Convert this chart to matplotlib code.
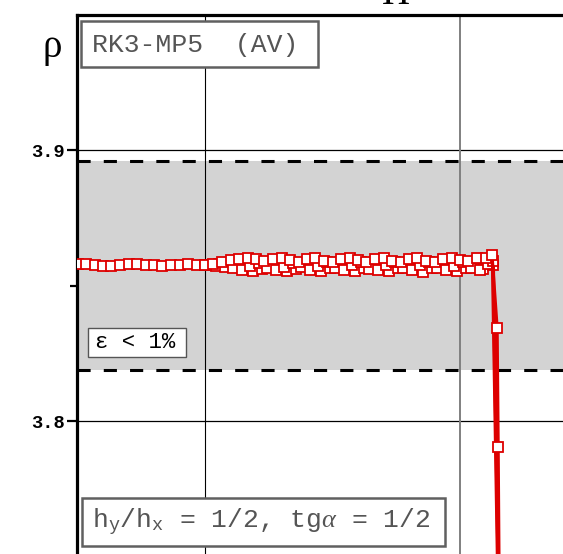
import matplotlib
matplotlib.use("Agg")
import matplotlib.pyplot as plt
from matplotlib.patches import Rectangle

plt.rcParams['mathtext.fontset'] = 'custom'
plt.rcParams['mathtext.rm'] = 'Liberation Mono'
plt.rcParams['mathtext.it'] = 'Liberation Serif:italic'

# ---------------- data ----------------
band_lo = 3.819
band_hi = 3.896

x_left = [0.500, 0.533, 0.567, 0.600, 0.633, 0.667, 0.700, 0.733, 0.767, 0.800,
          0.833, 0.867, 0.900, 0.933, 0.967]
y_left = [3.8578, 3.8578, 3.8577, 3.8573, 3.8573, 3.8577, 3.8578, 3.8578, 3.8577, 3.8576,
          3.8573, 3.8574, 3.8577, 3.8578, 3.8577]

x_a = [1.000, 1.033, 1.067, 1.100, 1.133, 1.167, 1.200, 1.233, 1.267, 1.300,
       1.333, 1.367, 1.400, 1.433, 1.467, 1.500, 1.533, 1.567, 1.600, 1.633,
       1.667, 1.700, 1.733, 1.767, 1.800, 1.833, 1.867, 1.900, 1.933, 1.967,
       2.000, 2.033, 2.067, 2.100, 2.125, 2.145, 2.149, 2.156]
y_a = [3.8577, 3.8581, 3.8587, 3.8593, 3.8598, 3.8601, 3.8597, 3.8590, 3.8599, 3.8601,
       3.8594, 3.8587, 3.8598, 3.8601, 3.8592, 3.8585, 3.8597, 3.8601, 3.8593, 3.8586,
       3.8599, 3.8601, 3.8591, 3.8587, 3.8598, 3.8602, 3.8592, 3.8588, 3.8599, 3.8601,
       3.8594, 3.8591, 3.8600, 3.8602, 3.8611, 3.8343, 3.7904, 3.7000]

x_b = [1.011, 1.044, 1.078, 1.111, 1.144, 1.178, 1.211, 1.244, 1.278, 1.311,
       1.344, 1.378, 1.411, 1.444, 1.478, 1.511, 1.544, 1.578, 1.611, 1.644,
       1.678, 1.711, 1.744, 1.778, 1.811, 1.844, 1.878, 1.911, 1.944, 1.978,
       2.011, 2.044, 2.078, 2.111, 2.130, 2.158]
y_b = [3.8576, 3.8573, 3.8568, 3.8563, 3.8559, 3.8571, 3.8582, 3.8564, 3.8557, 3.8570,
       3.8584, 3.8567, 3.8557, 3.8572, 3.8586, 3.8565, 3.8557, 3.8574, 3.8585, 3.8562,
       3.8558, 3.8575, 3.8586, 3.8564, 3.8557, 3.8574, 3.8587, 3.8565, 3.8557, 3.8572,
       3.8585, 3.8565, 3.8559, 3.8579, 3.8590, 3.7000]

x_c = [1.022, 1.056, 1.089, 1.122, 1.156, 1.189, 1.222, 1.256, 1.289, 1.322,
       1.356, 1.389, 1.422, 1.456, 1.489, 1.522, 1.556, 1.589, 1.622, 1.656,
       1.689, 1.722, 1.756, 1.789, 1.822, 1.856, 1.889, 1.922, 1.956, 1.989,
       2.022, 2.056, 2.089, 2.128, 2.156]
y_c = [3.8576, 3.8579, 3.8583, 3.8575, 3.8563, 3.8553, 3.8560, 3.8580, 3.8572, 3.8553,
       3.8560, 3.8582, 3.8570, 3.8552, 3.8563, 3.8582, 3.8568, 3.8552, 3.8565, 3.8583,
       3.8567, 3.8552, 3.8564, 3.8582, 3.8568, 3.8551, 3.8564, 3.8583, 3.8568, 3.8552,
       3.8566, 3.8580, 3.8562, 3.8575, 3.7000]

y_ticks = [3.8, 3.9]
y_tick_labels = ["3.8", "3.9"]
y_minor = [3.85]
x_grid = [1.0, 2.0]

# ---------------- figure ----------------
W, H = 563, 554
fig = plt.figure(figsize=(W / 100, H / 100), dpi=100)

def fx(px):
    return px / W

def fy(py):
    return 1 - py / H

ax = fig.add_axes([77 / W, -46 / H, 523 / W, 585 / H])
ax.set_xlim(0.498, 2.549)
ax.set_ylim(3.73395, 3.94982)

for s in ['right', 'bottom']:
    ax.spines[s].set_visible(False)
for s in ['top', 'left']:
    ax.spines[s].set_linewidth(2.3)
    ax.spines[s].set_color('black')

ax.set_xticks([])
ax.set_yticks(y_ticks)
ax.set_yticklabels(y_tick_labels, fontfamily='Liberation Mono', fontweight='bold', fontsize=13.5)
ax.set_yticks(y_minor, minor=True)
ax.tick_params(axis='y', which='major', length=7, width=1.6, pad=1.5, direction='out')
ax.tick_params(axis='y', which='minor', length=5, width=1.6, direction='out')

# band
ax.axhspan(band_lo, band_hi, color='#d3d3d3', zorder=0, lw=0)
# grid
for yv in y_ticks:
    ax.axhline(yv, color='black', lw=0.9, zorder=1)
ax.axvline(x_grid[0], color='black', lw=0.8, zorder=1)
ax.axvline(x_grid[1], color='#808080', lw=1.4, zorder=1)
# dashed limits
for yv in (band_lo, band_hi):
    ax.axhline(yv, color='black', lw=2.2, dashes=(4.3, 4.3), zorder=2)

red = '#dd0000'
mk = dict(marker='s', markersize=7.0, markerfacecolor='white', markeredgecolor=red,
          markeredgewidth=1.3, color=red, zorder=4)
ax.plot(x_left + [x_a[0]], y_left + [y_a[0]], lw=1.5, **mk)
ax.plot(x_c, y_c, lw=2.5, **mk)
ax.plot(x_b, y_b, lw=2.5, **mk)
ax.plot(x_a, y_a, lw=2.5, **mk)

# ---------------- texts ----------------
def box(x0, y0, x1, y1, ec, lw):
    r = Rectangle((fx(x0), fy(y1)), fx(x1) - fx(x0), fy(y0) - fy(y1),
                  transform=fig.transFigure, facecolor='white', edgecolor=ec,
                  linewidth=lw, zorder=10)
    fig.add_artist(r)

box(81, 21, 318, 67, '#606060', 1.8)
fig.text(fx(92), fy(45), "RK3-MP5  (AV)", fontfamily='Liberation Mono', fontsize=19,
         color='#555555', ha='left', va='center', zorder=11)

box(88, 328, 186, 357, '#555555', 1.0)
fig.text(fx(95), fy(343), "ε < 1%", fontfamily=['Liberation Mono', 'DejaVu Sans'],
         fontsize=16, color='black', ha='left', va='center', zorder=11)

box(82, 498, 445, 546, '#606060', 1.8)
fig.text(fx(92), fy(522), r"h$_\mathrm{y}$/h$_\mathrm{x}$ = 1/2, tg$\alpha$ = 1/2",
         fontfamily='Liberation Mono', fontsize=19, color='#555555',
         ha='left', va='center', zorder=11)

fig.text(fx(52), fy(48), "ρ", fontfamily='Liberation Serif', fontsize=28,
         color='black', ha='center', va='center')

fig.text(fx(396), fy(4), "П", fontfamily='Liberation Serif', fontsize=28,
         color='black', ha='center', va='baseline')

fig.savefig('out.png', dpi=100)
